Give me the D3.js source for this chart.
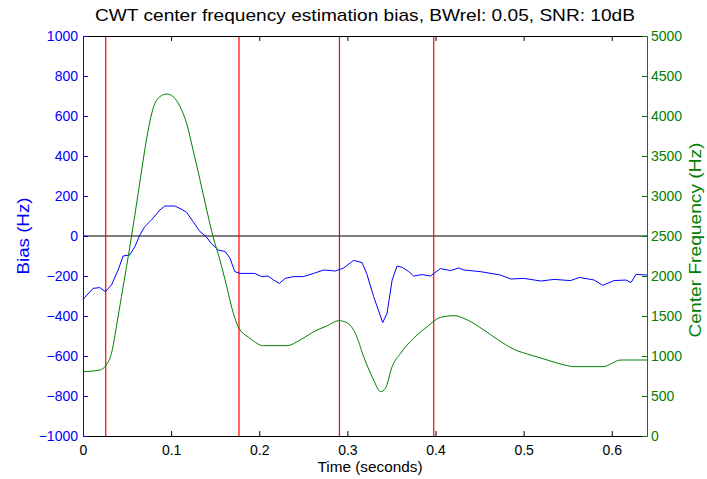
<!DOCTYPE html>
<html>
<head>
<meta charset="utf-8">
<script src="https://cdn.jsdelivr.net/npm/d3@7"></script>
<style>
  body { margin: 0; background: #fff; }
  svg { font-family: "Liberation Sans", Arial, sans-serif; }
</style>
</head>
<body>
<div id="chart"></div>
<script>
const width = 707;
const height = 479;

// Bias (Hz) trace, time in seconds
const biasTime = [0, 0.0114, 0.019, 0.0254, 0.0323, 0.0399, 0.0455, 0.053, 0.0589, 0.0645, 0.0701, 0.0776, 0.0873, 0.0929, 0.1042, 0.1121, 0.1176, 0.1249, 0.1328, 0.1397, 0.1456, 0.1535, 0.1614, 0.1669, 0.1722, 0.1781, 0.1948, 0.2027, 0.2101, 0.2161, 0.2229, 0.2293, 0.2389, 0.25, 0.2618, 0.273, 0.2865, 0.2957, 0.3071, 0.3166, 0.3219, 0.3298, 0.3401, 0.345, 0.3508, 0.3564, 0.3623, 0.3697, 0.3751, 0.385, 0.3943, 0.4056, 0.4171, 0.4263, 0.4322, 0.4509, 0.4736, 0.4854, 0.5002, 0.5195, 0.5347, 0.5534, 0.5632, 0.58, 0.5898, 0.6026, 0.6161, 0.6218, 0.6275, 0.64];
const biasValue = [-317, -262, -258, -278, -245, -170, -100, -95, -53, 5, 47, 80, 130, 150, 150, 133, 118, 72, 22, -3, -37, -70, -78, -112, -178, -187, -187, -203, -200, -220, -237, -212, -203, -203, -187, -170, -175, -160, -122, -133, -187, -303, -433, -387, -220, -150, -157, -178, -200, -193, -200, -163, -173, -160, -170, -178, -195, -215, -212, -225, -217, -223, -207, -220, -247, -223, -220, -233, -192, -195];

// Center frequency (Hz) trace
const freqTime = [0, 0.019, 0.0264, 0.0323, 0.0379, 0.0436, 0.0494, 0.055, 0.0626, 0.0683, 0.074, 0.0796, 0.0873, 0.0949, 0.1023, 0.1101, 0.1176, 0.1249, 0.1328, 0.1404, 0.1476, 0.1554, 0.1631, 0.1706, 0.1761, 0.1896, 0.2047, 0.2313, 0.2465, 0.2618, 0.2766, 0.2901, 0.2993, 0.3091, 0.3185, 0.3298, 0.3377, 0.3432, 0.3508, 0.3603, 0.3751, 0.3906, 0.4056, 0.4209, 0.4362, 0.4549, 0.4702, 0.4891, 0.508, 0.5268, 0.546, 0.5573, 0.5898, 0.6105, 0.64];
const freqValue = [804, 825, 888, 1033, 1367, 1742, 2117, 2492, 3033, 3450, 3825, 4096, 4242, 4275, 4242, 4117, 3908, 3575, 3200, 2825, 2492, 2200, 1867, 1533, 1367, 1221, 1129, 1129, 1200, 1304, 1375, 1442, 1417, 1283, 992, 700, 554, 596, 867, 1033, 1221, 1367, 1483, 1504, 1450, 1325, 1208, 1083, 1012, 950, 888, 867, 867, 950, 950];

// Segment boundaries (red lines)
const boundaries = [0.0258, 0.177, 0.291, 0.398];

const xTicks = [0, 0.1, 0.2, 0.3, 0.4, 0.5, 0.6];
const biasTicks = [-1000, -800, -600, -400, -200, 0, 200, 400, 600, 800, 1000];
const freqTicks = [0, 500, 1000, 1500, 2000, 2500, 3000, 3500, 4000, 4500, 5000];

const margin = { top: 36, right: 60, bottom: 43, left: 83 };
const plotW = width - margin.left - margin.right;
const plotH = height - margin.top - margin.bottom;

const x = d3.scaleLinear().domain([0, 0.64]).range([0, plotW]);
const yBias = d3.scaleLinear().domain([-1000, 1000]).range([plotH, 0]);
const yFreq = d3.scaleLinear().domain([0, 5000]).range([plotH, 0]);

const svg = d3.select("#chart").append("svg").attr("width", width).attr("height", height);
const g = svg.append("g").attr("transform", `translate(${margin.left},${margin.top})`);

// zero line
g.append("line")
  .attr("x1", 0).attr("x2", plotW)
  .attr("y1", yBias(0)).attr("y2", yBias(0))
  .attr("stroke", "#000").attr("stroke-width", 1);

// red boundary lines
g.selectAll(".bound")
  .data(boundaries)
  .join("line")
  .attr("class", "bound")
  .attr("x1", d => x(d)).attr("x2", d => x(d))
  .attr("y1", 0).attr("y2", plotH)
  .attr("stroke", "#ff0000").attr("stroke-width", 1.2);

// curves
const biasLine = d3.line().x((d, i) => x(biasTime[i])).y(d => yBias(d));
g.append("path")
  .attr("d", biasLine(biasValue))
  .attr("fill", "none").attr("stroke", "#0000ff").attr("stroke-width", 1);

const freqLine = d3.line().x((d, i) => x(freqTime[i])).y(d => yFreq(d)).curve(d3.curveMonotoneX);
g.append("path")
  .attr("d", freqLine(freqValue))
  .attr("fill", "none").attr("stroke", "#008000").attr("stroke-width", 1);

// axes (ticks point inward, MATLAB style)
const xFmt = d => d === 0 ? "0" : d3.format(".1f")(d);
const xAxis = g.append("g").attr("transform", `translate(0,${plotH})`)
  .call(d3.axisBottom(x).tickValues(xTicks).tickSizeInner(-5).tickSizeOuter(0).tickPadding(9).tickFormat(xFmt));
xAxis.select(".domain").attr("stroke", "#000");
xAxis.selectAll("text").attr("font-size", 14).attr("fill", "#000");

const xTop = g.append("g")
  .call(d3.axisTop(x).tickValues(xTicks).tickSizeInner(-5).tickSizeOuter(0).tickFormat(""));
xTop.select(".domain").attr("stroke", "#000");

const yLeft = g.append("g")
  .call(d3.axisLeft(yBias).tickValues(biasTicks).tickSizeInner(-5).tickSizeOuter(0).tickPadding(5).tickFormat(d3.format("d")));
yLeft.select(".domain").attr("stroke", "#0000ff");
yLeft.selectAll(".tick line").attr("stroke", "#0000ff");
yLeft.selectAll("text").attr("font-size", 14).attr("fill", "#0000ff");

const yRight = g.append("g").attr("transform", `translate(${plotW},0)`)
  .call(d3.axisRight(yFreq).tickValues(freqTicks).tickSizeInner(-5).tickSizeOuter(0).tickPadding(4).tickFormat(d3.format("d")));
yRight.select(".domain").attr("stroke", "#008000");
yRight.selectAll(".tick line").attr("stroke", "#008000");
yRight.selectAll("text").attr("font-size", 14).attr("fill", "#008000");

// labels
svg.append("text")
  .attr("x", margin.left + plotW / 2).attr("y", 21)
  .attr("text-anchor", "middle").attr("font-size", 17).attr("fill", "#000")
  .attr("textLength", 540).attr("lengthAdjust", "spacingAndGlyphs")
  .text("CWT center frequency estimation bias, BWrel: 0.05, SNR: 10dB");

svg.append("text")
  .attr("x", 370).attr("y", 472)
  .attr("text-anchor", "middle").attr("font-size", 15).attr("fill", "#000")
  .attr("textLength", 105).attr("lengthAdjust", "spacingAndGlyphs")
  .text("Time (seconds)");

svg.append("text")
  .attr("transform", `translate(29,${margin.top + plotH / 2}) rotate(-90)`)
  .attr("text-anchor", "middle").attr("font-size", 17).attr("fill", "#0000ff")
  .attr("textLength", 77).attr("lengthAdjust", "spacingAndGlyphs")
  .text("Bias (Hz)");

svg.append("text")
  .attr("transform", `translate(701,${margin.top + plotH / 2 + 4}) rotate(-90)`)
  .attr("text-anchor", "middle").attr("font-size", 16).attr("fill", "#008000")
  .attr("textLength", 195).attr("lengthAdjust", "spacingAndGlyphs")
  .text("Center Frequency (Hz)");
</script>
</body>
</html>
